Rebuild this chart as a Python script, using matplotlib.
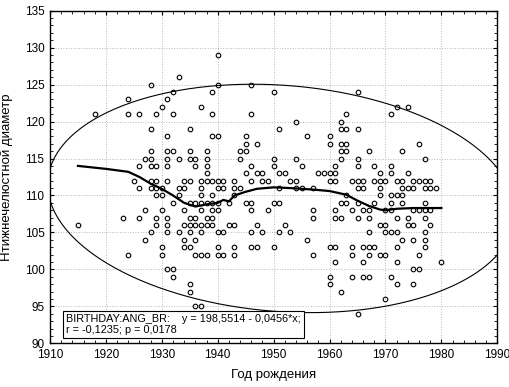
import numpy as np
import matplotlib
matplotlib.use("Agg")
import matplotlib.pyplot as plt
from matplotlib.ticker import MultipleLocator

plt.rcParams['font.family'] = ['Liberation Sans', 'DejaVu Sans']

# scatter data: birth year -> measured values
points = {
    1915: [106],
    1918: [121],
    1923: [107],
    1924: [123, 121, 102],
    1925: [112],
    1926: [121, 114, 111, 107],
    1927: [115, 108, 104],
    1928: [125, 119, 116, 115, 114, 112, 111, 105],
    1929: [121, 114, 112, 111, 110, 107, 106],
    1930: [122, 111, 110, 108, 103, 102],
    1931: [123, 118, 116, 115, 114, 112, 107, 106, 105, 100],
    1932: [124, 121, 116, 109, 100, 99],
    1933: [126, 115, 111, 110, 105],
    1934: [112, 111, 108, 106, 104, 103],
    1935: [119, 116, 115, 112, 109, 107, 106, 105, 103, 98, 97],
    1936: [115, 114, 109, 107, 106, 104, 102, 95],
    1937: [122, 112, 111, 110, 109, 108, 106, 105, 102, 95],
    1938: [116, 115, 114, 113, 112, 109, 107, 106, 102],
    1939: [124, 121, 118, 112, 110, 109, 108, 107, 106],
    1940: [129, 125, 118, 112, 111, 109, 108, 105, 103, 102],
    1941: [112, 111, 105, 102],
    1942: [109, 106],
    1943: [112, 111, 110, 106, 103, 102],
    1944: [116, 115, 111],
    1945: [118, 117, 116, 113, 109],
    1946: [125, 121, 114, 112, 109, 108, 105, 103],
    1947: [117, 113, 106, 103],
    1948: [113, 112, 105],
    1949: [112, 108],
    1950: [124, 115, 114, 109, 103],
    1951: [119, 113, 111, 109, 105],
    1952: [113, 106],
    1953: [112, 105],
    1954: [120, 115, 112, 111],
    1955: [114, 111],
    1956: [118, 104],
    1957: [111, 108, 107, 102],
    1958: [113],
    1959: [113],
    1960: [118, 117, 113, 112, 103, 99, 98],
    1961: [114, 113, 112, 108, 107, 103, 101],
    1962: [120, 119, 117, 116, 115, 109, 107, 97],
    1963: [121, 119, 117, 116, 110, 109],
    1964: [112, 108, 103, 102, 99],
    1965: [124, 119, 115, 114, 112, 111, 109, 107, 94],
    1966: [112, 111, 108, 103, 101, 99],
    1967: [116, 108, 107, 105, 103, 102, 99],
    1968: [114, 112, 109, 103],
    1969: [113, 112, 111, 110, 106, 102],
    1970: [112, 108, 106, 105, 102, 96],
    1971: [121, 114, 113, 110, 109, 108, 105, 99],
    1972: [122, 112, 110, 107, 105, 103, 101, 98],
    1973: [116, 112, 111, 110, 109, 104],
    1974: [122, 113, 111, 107, 106],
    1975: [112, 111, 108, 106, 104, 100, 98],
    1976: [117, 112, 108, 102, 100],
    1977: [115, 112, 111, 109, 108, 107, 105, 104, 103],
    1978: [112, 111, 108, 106],
    1979: [111],
    1980: [101],
}

# smoothed curve
smooth_x = [1915, 1920, 1924, 1926, 1928, 1930, 1932, 1934, 1936, 1938, 1940, 1941,
            1942, 1943, 1945, 1947, 1950, 1953, 1957, 1960, 1963, 1965, 1967, 1969,
            1970, 1972, 1975, 1980]
smooth_y = [114.0, 113.6, 113.2, 112.5, 111.6, 110.9, 110.0, 109.0, 108.5, 108.8, 109.0, 109.4,
            109.2, 110.0, 110.5, 110.9, 111.1, 111.0, 110.8, 110.6, 110.1, 109.3, 108.6, 108.1,
            108.0, 108.2, 108.3, 108.3]

# prediction ellipse
ell_cx, ell_cy = 1951.4, 109.6
ell_ax, ell_ay = 41.8, 15.45
ell_r = -0.1235

xs = []
ys = []
for yr, vals in points.items():
    xs += [yr] * len(vals)
    ys += vals

fig = plt.figure(figsize=(5.09, 3.87), dpi=100)
ax = fig.add_axes([0.0982, 0.1129, 0.8788, 0.8595])

ax.grid(True, which='major', color='#b8b8b8', linestyle=':', linewidth=0.7)
ax.set_axisbelow(True)

ax.plot(xs, ys, 'o', mfc='none', mec='black', ms=3.3, mew=0.8, zorder=3)

t = np.linspace(0, 2 * np.pi, 400)
theta = np.arccos(ell_r)
ax.plot(ell_cx + ell_ax * np.cos(t), ell_cy + ell_ay * np.cos(t - theta),
        color='black', lw=0.8, zorder=2)

ax.plot(smooth_x, smooth_y, color='black', lw=1.6, zorder=4)

ax.set_xlim(1910, 1990)
ax.set_ylim(90, 135)
ax.xaxis.set_major_locator(MultipleLocator(10))
ax.xaxis.set_minor_locator(MultipleLocator(2))
ax.yaxis.set_major_locator(MultipleLocator(5))
ax.yaxis.set_minor_locator(MultipleLocator(1))
ax.tick_params(which='both', direction='in', top=True, right=True, labelsize=8.5, pad=4)
ax.tick_params(which='major', length=3, width=0.8)
ax.tick_params(which='minor', length=2, width=0.6)
for s in ax.spines.values():
    s.set_linewidth(1.0)

ax.set_xlabel('Год рождения', fontsize=9.5, labelpad=6)
ax.set_ylabel('Нтижнечелюстной диаметр', fontsize=9.5, labelpad=8)

ax.text(0.036, 0.025, 'BIRTHDAY:ANG_BR:    y = 198,5514 - 0,0456*x;\nr = -0,1235; p = 0,0178',
        transform=ax.transAxes, fontsize=7.8, ha='left', va='bottom', linespacing=1.15,
        bbox=dict(boxstyle='square,pad=0.3', fc='white', ec='black', lw=0.8), zorder=6)

fig.savefig('out.png', dpi=100)
